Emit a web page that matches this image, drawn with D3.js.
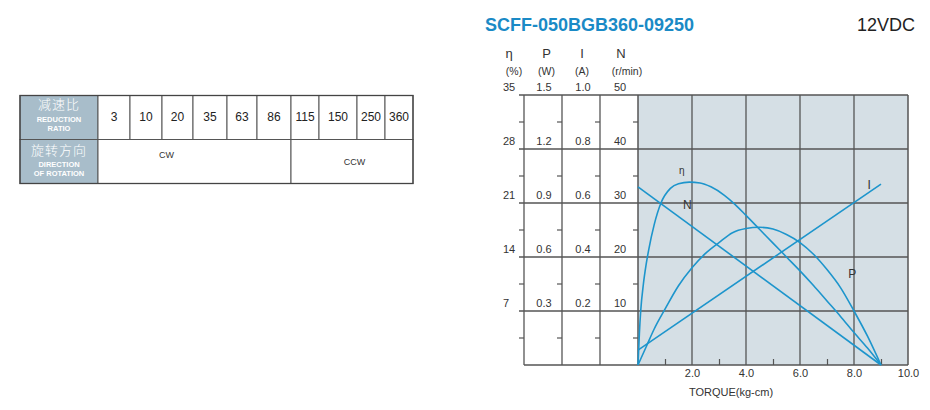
<!DOCTYPE html>
<html>
<head>
<meta charset="utf-8">
<script src="https://cdn.jsdelivr.net/npm/d3@7/dist/d3.min.js"></script>
<style>
  html, body { margin: 0; padding: 0; background: #fff; }
  svg { display: block; font-family: "Liberation Sans", Arial, sans-serif; }
</style>
</head>
<body>
<svg id="chart" width="930" height="410"></svg>
<script>
// ---------------- DATA ----------------
const modelName = "SCFF-050BGB360-09250";
const voltage = "12VDC";

const ratioHeaderCN = "减速比";
const ratioHeaderEN = ["REDUCTION", "RATIO"];
const dirHeaderCN = "旋转方向";
const dirHeaderEN = ["DIRECTION", "OF ROTATION"];
const ratios = ["3", "10", "20", "35", "63", "86", "115", "150", "250", "360"];
const directions = ["CW", "CCW"];
const directionSpans = [6, 4]; // number of ratio columns each direction covers

const torqueTicks = [2, 4, 6, 8, 10];
const torqueMinorTicks = [1, 3, 5, 7, 9];

const etaTicks = [7, 14, 21, 28, 35];
const pTicks = [0.3, 0.6, 0.9, 1.2, 1.5];
const iTicks = [0.2, 0.4, 0.6, 0.8, 1.0];
const nTicks = [10, 20, 30, 40, 50];
const minorEta = [3.5, 10.5, 17.5, 24.5, 31.5];

const axisSymbols = ["η", "P", "I", "N"];
const axisUnits = ["(%)", "(W)", "(A)", "(r/min)"];

// efficiency η (%) vs torque (kg-cm)
const etaTorque = [0, 0.05, 0.1, 0.2, 0.3, 0.4, 0.6, 0.85, 1.2, 1.5, 1.9, 2.3, 2.7, 3.2, 3.6, 4.0, 4.5, 5.0, 5.5, 6.0, 6.5, 7.0, 7.5, 8.0, 8.5, 9.0];
const etaValues = [0, 4, 7, 10.5, 13, 15, 18.2, 21, 22.9, 23.5, 23.7, 23.6, 23.1, 22.0, 20.8, 19.4, 17.6, 15.8, 14.0, 12.2, 10.3, 8.3, 6.3, 4.2, 2.2, 0];

// output power P (W)
const pTorque = [0, 0.3, 0.6, 1, 1.5, 2, 2.5, 3, 3.5, 4, 4.5, 5, 5.5, 6, 6.5, 7, 7.5, 8, 8.5, 9];
const pValues = [0, 0.1, 0.2, 0.31, 0.44, 0.54, 0.62, 0.68, 0.735, 0.758, 0.765, 0.755, 0.725, 0.68, 0.615, 0.53, 0.43, 0.30, 0.16, 0];

// current I (A)
const iTorque = [0, 9];
const iValues = [0.055, 0.67];

// speed N (r/min)
const nTorque = [0, 9];
const nValues = [33, 0];

// curve labels: [text, torque, value on η scale, font size]
const curveLabels = [
  ["η", 1.62, 25.2, 10],
  ["N", 1.83, 20.8, 12],
  ["I", 8.56, 23.3, 12],
  ["P", 7.94, 11.8, 12]
];

// ---------------- DRAW ----------------
const svg = d3.select("#chart");
const blue = "#1d95cc";
const gridCol = "#555";
const textCol = "#333";

// ---- Title ----
svg.append("text").attr("x", 485).attr("y", 31)
  .attr("font-size", 18).attr("font-weight", "bold").attr("fill", "#1a8ac6")
  .text(modelName);
svg.append("text").attr("x", 915).attr("y", 31).attr("text-anchor", "end")
  .attr("font-size", 18).attr("fill", "#222")
  .text(voltage);

// ---- Table ----
const tX = 20, hdrW = 78, tY = 95.5, rowH = [44, 44];
const colW = [32, 32, 31, 34, 30, 34, 28, 38, 28, 28];
const colStart = colW.map((w, i) => tX + hdrW + d3.sum(colW.slice(0, i)));
const tW = hdrW + d3.sum(colW);
const tbl = svg.append("g");

// header cells
tbl.selectAll("rect.hdr").data([0, 1]).join("rect")
  .attr("x", tX).attr("y", d => tY + d3.sum(rowH.slice(0, d)))
  .attr("width", hdrW).attr("height", d => rowH[d])
  .attr("fill", "#a8bdca").attr("stroke", "#555").attr("stroke-width", 1);

const hdrCx = tX + hdrW / 2;
tbl.append("text").attr("x", hdrCx).attr("y", tY + 8).attr("text-anchor", "middle")
  .attr("dominant-baseline", "central").attr("font-size", 13).attr("fill", "#fff")
  .attr("font-family", "Noto Sans CJK SC").attr("font-weight", 300).attr("letter-spacing", 1)
  .text(ratioHeaderCN);
tbl.selectAll("text.en1").data(ratioHeaderEN).join("text")
  .attr("x", hdrCx).attr("y", (d, i) => tY + 24 + i * 9).attr("text-anchor", "middle")
  .attr("dominant-baseline", "central").attr("font-size", 7.5).attr("font-weight", "bold")
  .attr("fill", "#fff").text(d => d);
tbl.append("text").attr("x", hdrCx).attr("y", tY + rowH[0] + 10).attr("text-anchor", "middle")
  .attr("dominant-baseline", "central").attr("font-size", 13).attr("fill", "#fff")
  .attr("font-family", "Noto Sans CJK SC").attr("font-weight", 300).attr("letter-spacing", 1)
  .text(dirHeaderCN);
tbl.selectAll("text.en2").data(dirHeaderEN).join("text")
  .attr("x", hdrCx).attr("y", (d, i) => tY + rowH[0] + 25 + i * 8.5).attr("text-anchor", "middle")
  .attr("dominant-baseline", "central").attr("font-size", 7.5).attr("font-weight", "bold")
  .attr("fill", "#fff").text(d => d);

// ratio cells
tbl.selectAll("rect.ratio").data(ratios).join("rect")
  .attr("x", (d, i) => colStart[i]).attr("y", tY)
  .attr("width", (d, i) => colW[i]).attr("height", rowH[0])
  .attr("fill", "#fff").attr("stroke", "#555").attr("stroke-width", 1);
tbl.selectAll("text.ratio").data(ratios).join("text")
  .attr("x", (d, i) => colStart[i] + colW[i] / 2).attr("y", tY + 21)
  .attr("text-anchor", "middle").attr("dominant-baseline", "central")
  .attr("font-size", 12).attr("fill", "#222").text(d => d);

// direction cells
let acc = 0;
const dirCells = directions.map((d, i) => {
  const s = acc; acc += directionSpans[i];
  const x0 = colStart[s];
  const x1 = colStart[acc - 1] + colW[acc - 1];
  return { label: d, x0, x1 };
});
const dirTextFrac = [0.355, 0.52];
const dirTextDy = [15, 22];
tbl.selectAll("rect.dir").data(dirCells).join("rect")
  .attr("x", d => d.x0).attr("y", tY + rowH[0])
  .attr("width", d => d.x1 - d.x0).attr("height", rowH[1])
  .attr("fill", "#fff").attr("stroke", "#555").attr("stroke-width", 1);
tbl.selectAll("text.dir").data(dirCells).join("text")
  .attr("x", (d, i) => d.x0 + (d.x1 - d.x0) * dirTextFrac[i])
  .attr("y", (d, i) => tY + rowH[0] + dirTextDy[i])
  .attr("text-anchor", "middle").attr("dominant-baseline", "central")
  .attr("font-size", 9).attr("fill", "#333").text(d => d.label);

// outer border
tbl.append("rect").attr("x", tX).attr("y", tY).attr("width", tW).attr("height", d3.sum(rowH))
  .attr("fill", "none").attr("stroke", "#444").attr("stroke-width", 1.3);

// ---- Performance chart ----
const x = d3.scaleLinear().domain([0, 10]).range([638, 908]);
const yEta = d3.scaleLinear().domain([0, 35]).range([365, 95]);
const yP = d3.scaleLinear().domain([0, 1.5]).range([365, 95]);
const yI = d3.scaleLinear().domain([0, 1.0]).range([365, 95]);
const yN = d3.scaleLinear().domain([0, 50]).range([365, 95]);

const colLines = [524, 562, 600, 638];
const leftStart = 519;

const g = svg.append("g");

// plot background
g.append("rect").attr("x", x(0)).attr("y", yEta(35))
  .attr("width", x(10) - x(0)).attr("height", yEta(0) - yEta(35))
  .attr("fill", "#d5dfe5");

// vertical gridlines (torque)
g.selectAll("line.vgrid").data(torqueTicks.slice(0, -1)).join("line")
  .attr("x1", d => x(d)).attr("x2", d => x(d))
  .attr("y1", yEta(0)).attr("y2", yEta(35))
  .attr("stroke", gridCol).attr("stroke-width", 1.3);

// horizontal gridlines (spanning left panel and plot)
g.selectAll("line.hgrid").data(etaTicks).join("line")
  .attr("x1", leftStart).attr("x2", x(10))
  .attr("y1", d => yEta(d)).attr("y2", d => yEta(d))
  .attr("stroke", gridCol).attr("stroke-width", 1.3);
// bottom line
g.append("line").attr("x1", colLines[0]).attr("x2", x(10))
  .attr("y1", yEta(0)).attr("y2", yEta(0))
  .attr("stroke", gridCol).attr("stroke-width", 1.5);

// left panel vertical lines + right frame
g.selectAll("line.col").data(colLines.concat([x(10)])).join("line")
  .attr("x1", d => d).attr("x2", d => d)
  .attr("y1", yEta(0)).attr("y2", yEta(35))
  .attr("stroke", gridCol).attr("stroke-width", (d, i) => i === 3 || i === 4 ? 1.5 : 1.3);

// minor ticks at left of each column line
colLines.forEach(cx => {
  g.selectAll(null).data(minorEta).join("line")
    .attr("x1", cx - 5).attr("x2", cx)
    .attr("y1", d => yEta(d)).attr("y2", d => yEta(d))
    .attr("stroke", gridCol).attr("stroke-width", 1.2);
});

// torque axis (labels) using d3 axis
const xAxis = d3.axisBottom(x).tickValues(torqueTicks).tickFormat(d3.format(".1f")).tickSize(0).tickPadding(4);
const xa = g.append("g").attr("transform", `translate(0,${yEta(0)})`).call(xAxis);
xa.select(".domain").remove();
xa.selectAll("text").attr("font-size", 11).attr("fill", textCol)
  .attr("font-family", "Liberation Sans, Arial, sans-serif");

// minor torque ticks (upward)
const xMinor = d3.axisTop(x).tickValues(torqueMinorTicks).tickFormat("").tickSize(6);
const xm = g.append("g").attr("transform", `translate(0,${yEta(0)})`).call(xMinor);
xm.select(".domain").remove();
xm.selectAll("line").attr("stroke", gridCol).attr("stroke-width", 1.2);

svg.append("text").attr("x", 731).attr("y", 395.5).attr("text-anchor", "middle")
  .attr("font-size", 11).attr("fill", textCol).text("TORQUE(kg-cm)");

// left-axis header
const symX = [509, 546.5, 582, 621];
const unitX = [514, 546.5, 582, 627];
g.selectAll("text.sym").data(axisSymbols).join("text")
  .attr("x", (d, i) => symX[i]).attr("y", 58).attr("text-anchor", "middle")
  .attr("font-size", 13).attr("fill", textCol).text(d => d);
g.selectAll("text.unit").data(axisUnits).join("text")
  .attr("x", (d, i) => unitX[i]).attr("y", 74.5).attr("text-anchor", "middle")
  .attr("font-size", 10.5).attr("fill", textCol).text(d => d);

// left-axis tick labels
const lblDy = -4;
g.selectAll("text.eta").data(etaTicks).join("text")
  .attr("x", 503).attr("y", d => yEta(d) + lblDy)
  .attr("font-size", 11).attr("fill", textCol).text(d => d);
const colCx = [544, 583, 620];
const colData = [
  { ticks: pTicks, scale: yP, fmt: d3.format(".1f") },
  { ticks: iTicks, scale: yI, fmt: d3.format(".1f") },
  { ticks: nTicks, scale: yN, fmt: d3.format("d") }
];
colData.forEach((c, ci) => {
  g.selectAll(null).data(c.ticks).join("text")
    .attr("x", colCx[ci]).attr("y", d => c.scale(d) + lblDy)
    .attr("text-anchor", "middle")
    .attr("font-size", 11).attr("fill", textCol).text(d => c.fmt(d));
});

// curves
const curves = g.append("g").attr("fill", "none").attr("stroke", blue).attr("stroke-width", 1.6);
const mk = (xs, ys, yScale) => xs.map((t, i) => [x(t), yScale(ys[i])]);
const smooth = d3.line().curve(d3.curveMonotoneX);
const straight = d3.line();

curves.append("path").attr("d", smooth(mk(etaTorque, etaValues, yEta)));
curves.append("path").attr("d", smooth(mk(pTorque, pValues, yP)));
curves.append("path").attr("d", straight(mk(iTorque, iValues, yI)));
curves.append("path").attr("d", straight(mk(nTorque, nValues, yN)));

// curve labels
g.selectAll("text.clbl").data(curveLabels).join("text")
  .attr("x", d => x(d[1])).attr("y", d => yEta(d[2]))
  .attr("text-anchor", "middle").attr("dominant-baseline", "central")
  .attr("font-size", d => d[3]).attr("fill", "#333").text(d => d[0]);
</script>
</body>
</html>
